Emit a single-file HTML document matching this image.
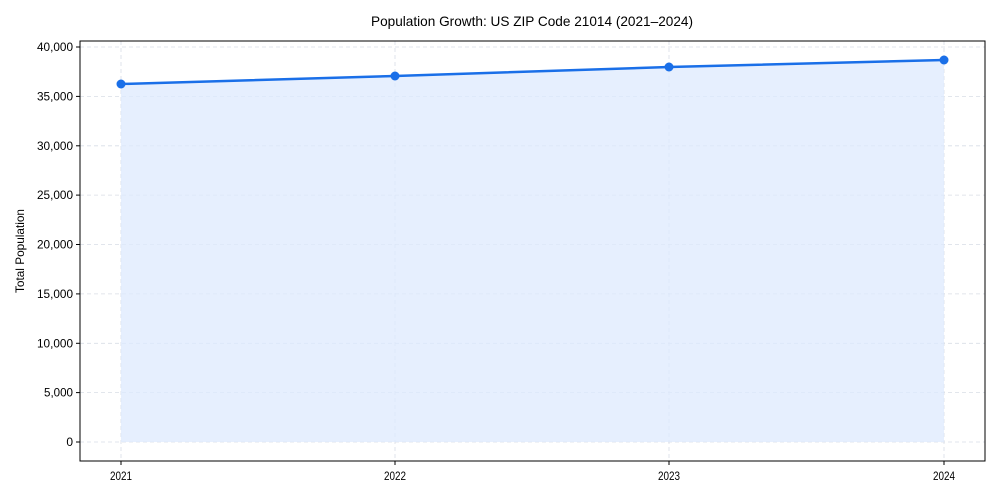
<!DOCTYPE html>
<html><head><style>body{margin:0;background:#fff}svg{display:block}text{font-family:"Liberation Sans",sans-serif;fill:#000}</style></head><body>
<svg width="1000" height="500" viewBox="0 0 1000 500">
<rect width="1000" height="500" fill="#fff"/>
<text x="532" y="26" font-size="14" text-anchor="middle" textLength="322" lengthAdjust="spacingAndGlyphs">Population Growth: US ZIP Code 21014 (2021–2024)</text>
<g stroke="#d8dde6" stroke-width="0.8" stroke-dasharray="4,3">
<line x1="80" x2="985" y1="442" y2="442"/><line x1="80" x2="985" y1="392.6" y2="392.6"/><line x1="80" x2="985" y1="343.3" y2="343.3"/><line x1="80" x2="985" y1="293.9" y2="293.9"/><line x1="80" x2="985" y1="244.5" y2="244.5"/><line x1="80" x2="985" y1="195.1" y2="195.1"/><line x1="80" x2="985" y1="145.8" y2="145.8"/><line x1="80" x2="985" y1="96.4" y2="96.4"/><line x1="80" x2="985" y1="47" y2="47"/>
<line x1="121" x2="121" y1="41" y2="461"/><line x1="395" x2="395" y1="41" y2="461"/><line x1="669" x2="669" y1="41" y2="461"/><line x1="944" x2="944" y1="41" y2="461"/>
</g>
<polygon points="121,84 395,76 669,67 944,60 944,442 121,442" fill="#dde9fd" fill-opacity="0.75"/>
<polyline points="121,84 395,76 669,67 944,60" fill="none" stroke="#1a6fe8" stroke-width="2.5"/>
<g fill="#1a6fe8"><circle cx="121" cy="84" r="4.5"/><circle cx="395" cy="76" r="4.5"/><circle cx="669" cy="67" r="4.5"/><circle cx="944" cy="60" r="4.5"/></g>
<rect x="80" y="41" width="905" height="420" fill="none" stroke="#000" stroke-width="1"/>
<g stroke="#000"><line x1="76" x2="80" y1="442" y2="442"/><line x1="76" x2="80" y1="392.6" y2="392.6"/><line x1="76" x2="80" y1="343.3" y2="343.3"/><line x1="76" x2="80" y1="293.9" y2="293.9"/><line x1="76" x2="80" y1="244.5" y2="244.5"/><line x1="76" x2="80" y1="195.1" y2="195.1"/><line x1="76" x2="80" y1="145.8" y2="145.8"/><line x1="76" x2="80" y1="96.4" y2="96.4"/><line x1="76" x2="80" y1="47" y2="47"/>
<line x1="121" x2="121" y1="461" y2="465"/><line x1="395" x2="395" y1="461" y2="465"/><line x1="669" x2="669" y1="461" y2="465"/><line x1="944" x2="944" y1="461" y2="465"/></g>
<g font-size="12" text-anchor="end" lengthAdjust="spacingAndGlyphs">
<text x="73" y="446">0</text><text x="73" y="396.6" textLength="29" lengthAdjust="spacingAndGlyphs">5,000</text><text x="73" y="347.3" textLength="36" lengthAdjust="spacingAndGlyphs">10,000</text><text x="73" y="297.9" textLength="36" lengthAdjust="spacingAndGlyphs">15,000</text><text x="73" y="248.5" textLength="36" lengthAdjust="spacingAndGlyphs">20,000</text><text x="73" y="199.1" textLength="36" lengthAdjust="spacingAndGlyphs">25,000</text><text x="73" y="149.8" textLength="36" lengthAdjust="spacingAndGlyphs">30,000</text><text x="73" y="100.4" textLength="36" lengthAdjust="spacingAndGlyphs">35,000</text><text x="73" y="51" textLength="36" lengthAdjust="spacingAndGlyphs">40,000</text></g>
<g font-size="12" text-anchor="middle"><text x="121" y="480" textLength="22" lengthAdjust="spacingAndGlyphs">2021</text><text x="395" y="480" textLength="22" lengthAdjust="spacingAndGlyphs">2022</text><text x="669" y="480" textLength="22" lengthAdjust="spacingAndGlyphs">2023</text><text x="944" y="480" textLength="22" lengthAdjust="spacingAndGlyphs">2024</text></g>
<text transform="translate(24,251) rotate(-90)" font-size="12" text-anchor="middle" textLength="84" lengthAdjust="spacingAndGlyphs">Total Population</text>
</svg>
</body></html>
